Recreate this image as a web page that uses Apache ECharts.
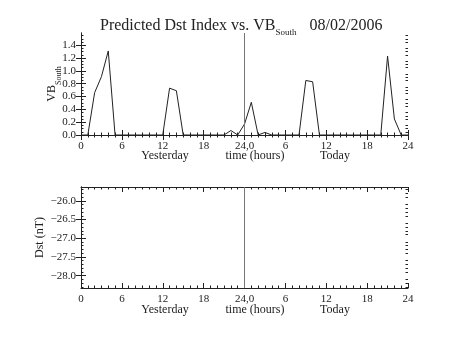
<!DOCTYPE html>
<html><head><meta charset="utf-8">
<script src="https://cdn.jsdelivr.net/npm/echarts@6/dist/echarts.min.js"></script>
<style>html,body{margin:0;padding:0;background:#fff}#c{width:453px;height:340px}</style>
</head><body><div id="c"></div>
<script>
// ---- data ----
const hours = [0,1,2,3,4,5,6,7,8,9,10,11,12,13,14,15,16,17,18,19,20,21,22,23,24,
  25,26,27,28,29,30,31,32,33,34,35,36,37,38,39,40,41,42,43,44,45,46,47,48];
const vbSouth = [0,0,0.66,0.91,1.31,0,0,0,0,0,0,0,0,0.73,0.69,0,0,0,0,0,0,0,0.07,0,0.17,
  0.51,0,0.04,0,0,0,0,0,0.85,0.83,0,0,0,0,0,0,0,0,0,0,1.23,0.25,0,0];
const dst = [];
const xTickLabels = ['0','6','12','18','24,0','6','12','18','24'];
const vbTicks = [0,0.2,0.4,0.6,0.8,1.0,1.2,1.4];
const vbMinorTicks = [0.05,0.1,0.15,0.25,0.3,0.35,0.45,0.5,0.55,0.65,0.7,0.75,0.85,0.9,0.95,
  1.05,1.1,1.15,1.25,1.3,1.35,1.45,1.5,1.55];
const dstTicks = [-28,-27.5,-27,-26.5,-26];
const dstMinorTicks = [-28.3,-28.2,-28.1,-27.9,-27.8,-27.7,-27.6,-27.4,-27.3,-27.2,-27.1,
  -26.9,-26.8,-26.7,-26.6,-26.4,-26.3,-26.2,-26.1,-25.9,-25.8,-25.7];
const dayBoundary = 24;
const titleText = 'Predicted Dst Index vs. VB';
const titleSub = 'South';
const dateText = '08/02/2006';

// ---- styles ----
const FONT = 'Liberation Serif';
const INK = '#222';
const X_MIN = 0, X_MAX = 48, X_STEP = 6;
const VB_MIN = 0, VB_MAX = 1.59;
const DST_MIN = -28.33, DST_MAX = -25.63;

function xAxis(grid, pos, labels) {
  return {
    type: 'value', gridIndex: grid, position: pos, min: X_MIN, max: X_MAX, interval: X_STEP,
    axisLine: {show: true, lineStyle: {color: INK, width: 1}},
    axisTick: {show: true, inside: true, length: 5, lineStyle: {color: INK}},
    minorTick: {show: true, splitNumber: 6, length: 2.5, lineStyle: {color: INK}},
    splitLine: {show: false},
    axisLabel: {show: labels, margin: 6, fontFamily: FONT, fontSize: 11, color: INK,
      formatter: v => xTickLabels[Math.round(v / X_STEP)] || ''}
  };
}
function yAxis(grid, pos, min, max, ticks, labels, fmt, extra) {
  return Object.assign({
    type: 'value', gridIndex: grid, position: pos, min: min, max: max,
    axisLine: {show: true, lineStyle: {color: INK, width: 1}},
    axisTick: {show: true, inside: true, length: 5, customValues: ticks, lineStyle: {color: INK}},
    splitLine: {show: false},
    axisLabel: {show: labels, margin: 5, fontFamily: FONT, fontSize: 11, color: INK,
      customValues: ticks, formatter: fmt}
  }, extra || {});
}
function yMinor(grid, pos, min, max, ticks) {
  return {
    type: 'value', gridIndex: grid, position: pos, min: min, max: max,
    axisLine: {show: false},
    axisTick: {show: true, inside: true, length: 2.5, customValues: ticks, lineStyle: {color: INK}},
    splitLine: {show: false}, axisLabel: {show: false}
  };
}
const vbFmt = v => v.toFixed(1);
const dstFmt = v => (v < 0 ? '\u2212' : '') + Math.abs(v).toFixed(1);

function boundary(yMin, yMax) {
  return {
    silent: true, symbol: 'none', animation: false,
    label: {show: false},
    lineStyle: {color: '#777', width: 1, type: 'solid'},
    data: [[{coord: [dayBoundary, yMin]}, {coord: [dayBoundary, yMax]}]]
  };
}

const words = [
  {t: 'Yesterday', x: 165, y: 156}, {t: 'time (hours)', x: 255, y: 156}, {t: 'Today', x: 335, y: 156},
  {t: 'Yesterday', x: 165, y: 310}, {t: 'time (hours)', x: 255, y: 310}, {t: 'Today', x: 335, y: 310}
];

const chart = echarts.init(document.getElementById('c'), null, {renderer: 'canvas'});
chart.setOption({
  animation: false,
  backgroundColor: '#fff',
  grid: [
    {left: 81, top: 33, width: 327, height: 102},
    {left: 81, top: 187, width: 327, height: 101}
  ],
  xAxis: [xAxis(0, 'bottom', true), xAxis(0, 'top', false), xAxis(1, 'bottom', true), xAxis(1, 'top', false)],
  yAxis: [
    yAxis(0, 'left', VB_MIN, VB_MAX, vbTicks, true, vbFmt, {
      name: 'VB{s|South}', nameLocation: 'middle', nameRotate: 90, nameGap: 18,
      nameMoveOverlap: false,
      nameTextStyle: {fontFamily: FONT, fontSize: 12, color: INK, lineHeight: 22,
        rich: {s: {fontFamily: FONT, fontSize: 8, color: INK, lineHeight: 11, verticalAlign: 'bottom'}}}
    }),
    yAxis(0, 'right', VB_MIN, VB_MAX, vbTicks, false, vbFmt),
    yMinor(0, 'left', VB_MIN, VB_MAX, vbMinorTicks),
    yMinor(0, 'right', VB_MIN, VB_MAX, vbMinorTicks),
    yAxis(1, 'left', DST_MIN, DST_MAX, dstTicks, true, dstFmt, {
      name: 'Dst (nT)', nameLocation: 'middle', nameRotate: 90, nameGap: 35,
      nameMoveOverlap: false,
      nameTextStyle: {fontFamily: FONT, fontSize: 12, color: INK}
    }),
    yAxis(1, 'right', DST_MIN, DST_MAX, dstTicks, false, dstFmt),
    yMinor(1, 'left', DST_MIN, DST_MAX, dstMinorTicks),
    yMinor(1, 'right', DST_MIN, DST_MAX, dstMinorTicks)
  ],
  title: {
    text: titleText + '{s|' + titleSub + '}{g| }' + dateText,
    left: 100, top: 14, padding: 0,
    textStyle: {fontFamily: FONT, fontSize: 16, fontWeight: 'normal', color: INK, lineHeight: 23,
      rich: {s: {fontFamily: FONT, fontSize: 9, color: INK, lineHeight: 9, verticalAlign: 'bottom'},
             g: {width: 13, lineHeight: 9}}}
  },
  graphic: words.map(w => ({
    type: 'text', x: w.x, y: w.y, silent: true,
    style: {text: w.t, align: 'center', verticalAlign: 'middle', fill: INK,
      font: '12px "' + FONT + '"'}
  })),
  series: [
    {type: 'line', xAxisIndex: 0, yAxisIndex: 0, symbol: 'none',
     lineStyle: {color: INK, width: 1},
     data: hours.map((h, i) => [h, vbSouth[i]]), markLine: boundary(VB_MIN, VB_MAX)},
    {type: 'line', xAxisIndex: 2, yAxisIndex: 4, symbol: 'none',
     lineStyle: {color: INK, width: 1},
     data: dst.map(d => [d[0], d[1]]), markLine: boundary(DST_MIN, DST_MAX)}
  ]
});
</script></body></html>
